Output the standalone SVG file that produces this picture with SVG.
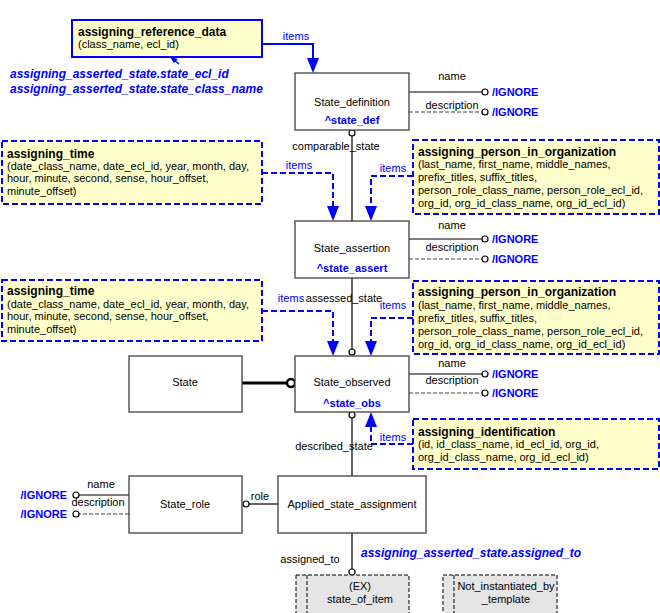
<svg xmlns="http://www.w3.org/2000/svg" width="660" height="613" viewBox="0 0 660 613">
<style>
text{font-family:"Liberation Sans",Arial,sans-serif;font-size:11px;fill:#000}
.c{text-anchor:middle}
.b{font-weight:bold}
.bl{fill:#0000ff;font-weight:bold}
.bi{fill:#0000ff;font-weight:bold;font-style:italic;font-size:12px}
.it{fill:#0000ff}
.ent{fill:#fff;stroke:#404040;stroke-width:1.3}
.ref{fill:#ffffcc;stroke:#0000ff;stroke-width:2}
.refd{fill:#ffffcc;stroke:#0000ff;stroke-width:2;stroke-dasharray:6,3}
.ext{fill:#e5e5e5;stroke:#000;stroke-width:1;stroke-dasharray:4,2}
.ln{fill:none;stroke:#000;stroke-width:1.2}
.dl{fill:none;stroke:#404040;stroke-width:1.2;stroke-dasharray:4,2}
.bln{fill:none;stroke:#0000ff;stroke-width:2}
.bld{fill:none;stroke:#0000ff;stroke-width:2;stroke-dasharray:6,3}
.cir{fill:#fff;stroke:#000;stroke-width:1.2}
.ah{fill:#0000ff}
</style>

<g id="connectors">
<!-- items from reference data -->
<path class="bln" d="M262,44 H313 V58"/>
<path class="ah" d="M307,58 L319,58 L313,73 Z"/>
<text x="296" y="40" class="it c">items</text>
<!-- small arrow to ref data -->
<path d="M179,64 L173,59" stroke="#0000ff" stroke-width="1.5"/>
<path class="ah" d="M170,57 L178,59 L174,63 Z"/>

<!-- State_definition attributes -->
<path class="ln" d="M409,92 H482"/>
<circle class="cir" cx="485" cy="92" r="3"/>
<text x="452" y="80" class="c">name</text>
<path class="dl" d="M409,112 H482"/>
<circle class="cir" cx="485" cy="112" r="3"/>
<text x="452" y="109" class="c">description</text>

<!-- comparable_state -->
<circle class="cir" cx="352" cy="133" r="3"/>
<path class="ln" d="M352,136 V221"/>
<text x="336" y="150" class="c">comparable_state</text>

<!-- items time1 -->
<path class="bld" d="M262,173 H333 V206"/>
<path class="ah" d="M327,206 L339,206 L333,221 Z"/>
<text x="299" y="169" class="it c">items</text>
<!-- items person1 -->
<path class="bld" d="M413,176 H371 V206"/>
<path class="ah" d="M365,206 L377,206 L371,221 Z"/>
<text x="393" y="172" class="it c">items</text>

<!-- State_assertion attributes -->
<path class="ln" d="M409,239 H482"/>
<circle class="cir" cx="485" cy="239" r="3"/>
<text x="452" y="229" class="c">name</text>
<path class="dl" d="M409,259 H482"/>
<circle class="cir" cx="485" cy="259" r="3"/>
<text x="452" y="251" class="c">description</text>

<!-- assessed_state -->
<path class="ln" d="M352,278 V349"/>
<circle class="cir" cx="352" cy="352" r="3"/>
<text x="344" y="302" class="c">assessed_state</text>

<!-- items time2 -->
<path class="bld" d="M262,311 H333 V341"/>
<path class="ah" d="M327,341 L339,341 L333,356 Z"/>
<text x="291" y="302" class="it c">items</text>
<!-- items person2 -->
<path class="bld" d="M413,318 H371 V341"/>
<path class="ah" d="M365,341 L377,341 L371,356 Z"/>
<text x="393" y="309" class="it c">items</text>

<!-- State to State_observed thick -->
<path d="M242,383 H287" stroke="#000" stroke-width="3"/>
<circle cx="291" cy="383" r="4" fill="#fff" stroke="#000" stroke-width="2.5"/>

<!-- State_observed attributes -->
<path class="ln" d="M409,374 H482"/>
<circle class="cir" cx="485" cy="374" r="3"/>
<text x="452" y="367" class="c">name</text>
<path class="dl" d="M409,393 H482"/>
<circle class="cir" cx="485" cy="393" r="3"/>
<text x="452" y="384" class="c">description</text>

<!-- items identification -->
<path class="bld" d="M413,444 H371 V427"/>
<path class="ah" d="M365,427 L377,427 L371,412 Z"/>
<text x="393" y="441" class="it c">items</text>

<!-- described_state -->
<circle class="cir" cx="352" cy="415" r="3"/>
<path class="ln" d="M352,418 V476"/>
<text x="334" y="450" class="c">described_state</text>

<!-- role -->
<path class="ln" d="M278,504 H249"/>
<circle class="cir" cx="246" cy="504" r="3"/>
<text x="260" y="500" class="c">role</text>

<!-- State_role attributes -->
<path class="ln" d="M129,495 H79"/>
<circle class="cir" cx="76" cy="495" r="3"/>
<text x="101" y="488" class="c">name</text>
<path class="dl" d="M129,514 H79"/>
<circle class="cir" cx="76" cy="514" r="3"/>
<text x="98" y="506" class="c">description</text>

<!-- assigned_to -->
<path class="ln" d="M352,533 V569"/>
<circle class="cir" cx="352" cy="572" r="3"/>
<text x="310" y="563" class="c">assigned_to</text>
</g>

<text x="492" y="96" class="bl">/IGNORE</text>
<text x="492" y="116" class="bl">/IGNORE</text>
<text x="492" y="243" class="bl">/IGNORE</text>
<text x="492" y="263" class="bl">/IGNORE</text>
<text x="492" y="378" class="bl">/IGNORE</text>
<text x="492" y="397" class="bl">/IGNORE</text>
<text x="67" y="499" class="bl" text-anchor="end">/IGNORE</text>
<text x="67" y="518" class="bl" text-anchor="end">/IGNORE</text>

<text x="10" y="78" class="bi">assigning_asserted_state.state_ecl_id</text>
<text x="10" y="93" class="bi">assigning_asserted_state.state_class_name</text>
<text x="361" y="557" class="bi">assigning_asserted_state.assigned_to</text>

<g id="assigning_reference_data">
<rect class="ref" x="72" y="20" width="190" height="37"/>
<text x="78" y="36" class="b" style="font-size:12px">assigning_reference_data</text>
<text x="78" y="48">(class_name, ecl_id)</text>
</g>

<g id="State_definition">
<rect class="ent" x="295" y="73" width="114" height="57"/>
<text x="352" y="106" class="c">State_definition</text>
<text x="352" y="124" class="bl c">^state_def</text>
</g>

<g id="assigning_time_1">
<rect class="refd" x="2" y="141" width="260" height="63"/>
<text x="7" y="158" class="b" style="font-size:12px">assigning_time</text>
<text x="7" y="170">(date_class_name, date_ecl_id, year, month, day,</text>
<text x="7" y="182">hour, minute, second, sense, hour_offset,</text>
<text x="7" y="195">minute_offset)</text>
</g>

<g id="assigning_person_in_organization_1">
<rect class="refd" x="413" y="140" width="246" height="74"/>
<text x="418" y="156" class="b" style="font-size:12px">assigning_person_in_organization</text>
<text x="418" y="168">(last_name, first_name, middle_names,</text>
<text x="418" y="181">prefix_titles, suffix_titles,</text>
<text x="418" y="194">person_role_class_name, person_role_ecl_id,</text>
<text x="418" y="207">org_id, org_id_class_name, org_id_ecl_id)</text>
</g>

<g id="State_assertion">
<rect class="ent" x="295" y="221" width="114" height="57"/>
<text x="352" y="252" class="c">State_assertion</text>
<text x="352" y="272" class="bl c">^state_assert</text>
</g>

<g id="assigning_time_2">
<rect class="refd" x="2" y="280" width="260" height="61"/>
<text x="7" y="295" class="b" style="font-size:12px">assigning_time</text>
<text x="7" y="308">(date_class_name, date_ecl_id, year, month, day,</text>
<text x="7" y="320">hour, minute, second, sense, hour_offset,</text>
<text x="7" y="333">minute_offset)</text>
</g>

<g id="assigning_person_in_organization_2">
<rect class="refd" x="413" y="281" width="246" height="73"/>
<text x="418" y="296" class="b" style="font-size:12px">assigning_person_in_organization</text>
<text x="418" y="309">(last_name, first_name, middle_names,</text>
<text x="418" y="322">prefix_titles, suffix_titles,</text>
<text x="418" y="335">person_role_class_name, person_role_ecl_id,</text>
<text x="418" y="348">org_id, org_id_class_name, org_id_ecl_id)</text>
</g>

<g id="State">
<rect class="ent" x="129" y="356" width="113" height="56"/>
<text x="185" y="386" class="c">State</text>
</g>

<g id="State_observed">
<rect class="ent" x="295" y="356" width="114" height="56"/>
<text x="352" y="386" class="c">State_observed</text>
<text x="352" y="407" class="bl c">^state_obs</text>
</g>

<g id="assigning_identification">
<rect class="refd" x="413" y="419" width="246" height="50"/>
<text x="418" y="436" class="b" style="font-size:12px">assigning_identification</text>
<text x="418" y="448">(id, id_class_name, id_ecl_id, org_id,</text>
<text x="418" y="461">org_id_class_name, org_id_ecl_id)</text>
</g>

<g id="State_role">
<rect class="ent" x="129" y="476" width="113" height="57"/>
<text x="185" y="508" class="c">State_role</text>
</g>

<g id="Applied_state_assignment">
<rect class="ent" x="278" y="476" width="148" height="57"/>
<text x="352" y="508" class="c">Applied_state_assignment</text>
</g>

<g id="state_of_item">
<rect class="ext" x="296" y="575" width="113" height="45"/>
<path d="M307,575 V613" stroke="#000" stroke-dasharray="4,2"/>
<text x="360" y="590" class="c">(EX)</text>
<text x="360" y="603" class="c">state_of_item</text>
</g>

<g id="Not_instantiated_by_template">
<rect class="ext" x="443" y="575" width="114" height="45"/>
<path d="M454,575 V613" stroke="#000" stroke-dasharray="4,2"/>
<text x="506" y="590" class="c">Not_instantiated_by</text>
<text x="506" y="603" class="c">_template</text>
</g>
</svg>
